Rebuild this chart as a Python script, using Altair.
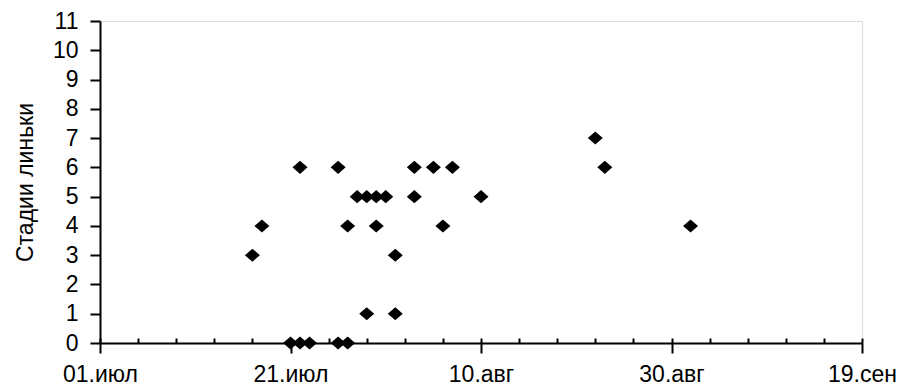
import altair as alt
import pandas as pd

dates = [
    "2005-07-17", "2005-07-18",
    "2005-07-21", "2005-07-22", "2005-07-22", "2005-07-23",
    "2005-07-26", "2005-07-26", "2005-07-27", "2005-07-27",
    "2005-07-28", "2005-07-29", "2005-07-29", "2005-07-30", "2005-07-30",
    "2005-07-31", "2005-08-01", "2005-08-01",
    "2005-08-03", "2005-08-03", "2005-08-05", "2005-08-06", "2005-08-07",
    "2005-08-10", "2005-08-22", "2005-08-23", "2005-09-01",
]
stages = [
    3, 4,
    0, 0, 6, 0,
    0, 6, 0, 4,
    5, 5, 1, 5, 4,
    5, 3, 1,
    6, 5, 6, 4, 6,
    5, 7, 6, 4,
]

# Axis ticks: labelled every 20 days, small ticks every 4 days
major_days = [(7, 1), (7, 21), (8, 10), (8, 30), (9, 19)]
minor_days = [(7, 1), (7, 5), (7, 9), (7, 13), (7, 17), (7, 21), (7, 25), (7, 29),
              (8, 2), (8, 6), (8, 10), (8, 14), (8, 18), (8, 22), (8, 26), (8, 30),
              (9, 3), (9, 7), (9, 11), (9, 15), (9, 19)]
y_ticks = list(range(0, 12))
month_names = ["янв", "фев", "мар", "апр", "май", "июн", "июл", "авг", "сен", "окт", "ноя", "дек"]

df = pd.DataFrame({"date": dates, "stage": stages})

W, H = 762, 322
FONT = "Liberation Sans"
FS = 23


def dt(md):
    return alt.DateTime(year=2005, month=md[0], date=md[1], utc=True)


xscale = alt.Scale(type="utc", domain=[dt(major_days[0]), dt(major_days[-1])], nice=False)
yscale = alt.Scale(domain=[0, 11], nice=False, zero=True)

months_js = "[" + ",".join("'" + m + "'" for m in month_names) + "]"
label_expr = "utcFormat(datum.value, '%d') + '.' + " + months_js + "[utcmonth(datum.value)]"

diamond = "M-1,0L0,-0.87L1,0L0,0.87Z"

points = alt.Chart(df).mark_point(
    shape=diamond, filled=True, color="black", opacity=1, size=225
).encode(
    x=alt.X("date:T", scale=xscale, axis=alt.Axis(
        orient="bottom", values=[dt(d) for d in major_days], labelExpr=label_expr,
        title=None, grid=False, domainColor="black", domainWidth=2,
        tickColor="black", tickWidth=2, tickSize=10, labelPadding=10,
        labelFont=FONT, labelFontSize=FS, labelColor="black", labelFlush=False,
        labelOverlap=False)),
    y=alt.Y("stage:Q", scale=yscale, axis=alt.Axis(
        values=y_ticks, title="Стадии линьки", grid=False,
        domainColor="black", domainWidth=2, tickColor="black", tickWidth=2,
        tickSize=10, labelPadding=12, labelFont=FONT, labelFontSize=FS,
        labelColor="black", titleFont=FONT, titleFontSize=FS,
        titleFontWeight="normal", titleColor="black", titlePadding=15,
        labelFlush=False, labelOverlap=False)),
)

minor = alt.Chart(df).mark_point(opacity=0).encode(
    x=alt.X("date:T", scale=xscale, axis=alt.Axis(
        orient="top", offset=-H, values=[dt(d) for d in minor_days],
        labels=False, domain=False, title=None, grid=False,
        tickColor="black", tickWidth=2, tickSize=5)),
    y=alt.Y("stage:Q", scale=yscale, axis=None),
)

chart = alt.layer(minor, points).resolve_axis(x="independent", y="independent").properties(
    width=W, height=H,
    autosize=alt.AutoSizeParams(type="none"),
    padding={"left": 92, "top": 13, "right": 35, "bottom": 44},
).configure_view(strokeWidth=0).configure(background="white")

chart.save("out.html", embed_options={"renderer": "svg", "actions": False})
